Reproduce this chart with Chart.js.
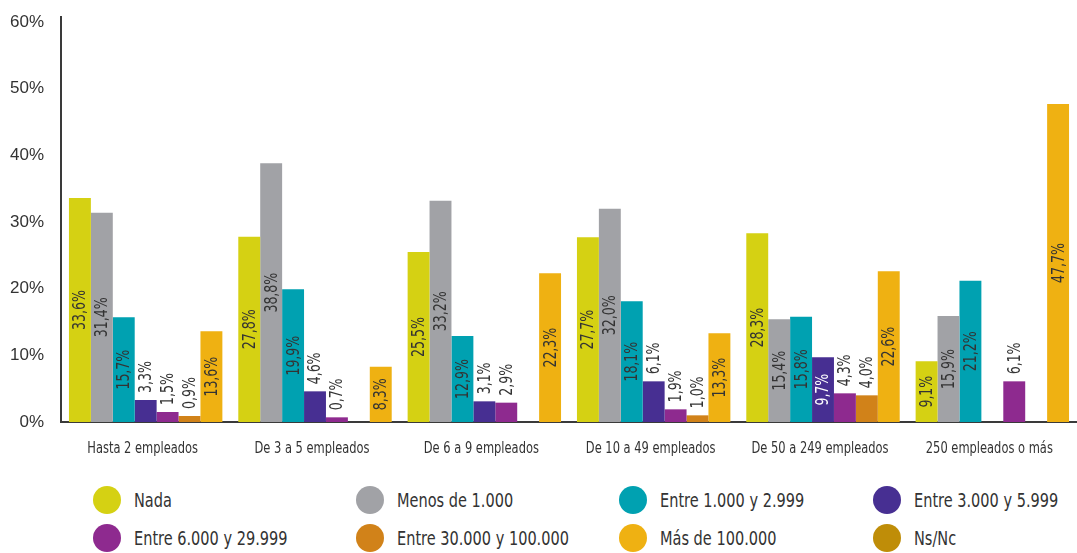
<!DOCTYPE html>
<html>
<head>
<meta charset="utf-8">
<script src="https://cdn.jsdelivr.net/npm/chart.js@4"></script>
<style>
  body { margin: 0; background: #fff; }
  #wrap { width: 1077px; height: 553px; position: relative; overflow: hidden; }
  #legend {
    position: absolute; left: 93px; top: 486px;
    display: grid; grid-template-columns: 263px 263px 254px auto;
    row-gap: 10px;
    font-family: "DejaVu Sans Condensed", sans-serif;
    font-size: 19px; color: #333;
  }
  .item { display: flex; align-items: center; height: 28px; white-space: nowrap; }
  .dot { width: 28px; height: 28px; border-radius: 50%; margin-right: 13px; flex: none; }
  .txt { display: inline-block; transform: scaleX(0.85); transform-origin: left center; }
</style>
</head>
<body>
<div id="wrap">
  <canvas id="chart" width="1077" height="470"></canvas>
  <div id="legend"></div>
</div>
<script>
// categorías (tamaño de empresa)
const categorias = ['Hasta 2 empleados', 'De 3 a 5 empleados', 'De 6 a 9 empleados',
    'De 10 a 49 empleados', 'De 50 a 249 empleados', '250 empleados o más'];

// valores por serie (%), null = sin barra
const nada        = [33.6, 27.8, 25.5, 27.7, 28.3, 9.1];
const menos1000   = [31.4, 38.8, 33.2, 32.0, 15.4, 15.9];
const entre1000   = [15.7, 19.9, 12.9, 18.1, 15.8, 21.2];
const entre3000   = [3.3, 4.6, 3.1, 6.1, 9.7, null];
const entre6000   = [1.5, 0.7, 2.9, 1.9, 4.3, 6.1];
const entre30000  = [0.9, null, null, 1.0, 4.0, null];
const mas100000   = [13.6, 8.3, 22.3, 13.3, 22.6, 47.7];
const nsnc        = [null, null, null, null, null, null];

const ticksY = [0, 10, 20, 30, 40, 50, 60];

const fuente = '"DejaVu Sans Condensed", sans-serif';

// etiquetas giradas dentro o encima de cada barra (fuente estrechada)
const barLabels = {
    id: 'barLabels',
    afterDatasetsDraw(chart) {
        const ctx = chart.ctx;
        const sx = 0.82;
        ctx.save();
        ctx.font = '17px ' + fuente;
        ctx.textBaseline = 'middle';
        chart.data.datasets.forEach((ds, i) => {
            const meta = chart.getDatasetMeta(i);
            if (meta.hidden || ds.hidden) return;
            meta.data.forEach((bar, j) => {
                const v = ds.data[j];
                if (v == null) return;
                const txt = v.toFixed(1).replace('.', ',') + '%';
                const w = ctx.measureText(txt).width * sx;
                const h = bar.base - bar.y;
                ctx.save();
                if (w + 10 < h) {
                    ctx.translate(bar.x, (bar.y + bar.base) / 2);
                    ctx.textAlign = 'center';
                    ctx.fillStyle = ds.insideLabelColor || '#333';
                } else {
                    ctx.translate(bar.x, bar.y - 7);
                    ctx.textAlign = 'left';
                    ctx.fillStyle = '#333';
                }
                ctx.rotate(-Math.PI / 2);
                ctx.scale(sx, 1);
                ctx.fillText(txt, 0, 1);
                ctx.restore();
            });
        });
        ctx.restore();
    }
};

// nombres de categoría bajo el eje x (fuente estrechada)
const xLabels = {
    id: 'xLabels',
    afterDraw(chart) {
        const ctx = chart.ctx;
        const xs = chart.scales.x;
        ctx.save();
        ctx.font = '15px ' + fuente;
        ctx.fillStyle = '#333';
        ctx.textAlign = 'center';
        ctx.textBaseline = 'middle';
        categorias.forEach((c, i) => {
            ctx.save();
            ctx.translate(xs.getPixelForValue(i) - 3, chart.chartArea.bottom + 27);
            ctx.scale(0.85, 1);
            ctx.fillText(c, 0, 0);
            ctx.restore();
        });
        ctx.restore();
    }
};

const chart = new Chart(document.getElementById('chart').getContext('2d'), {
    type: 'bar',
    data: {
        labels: categorias,
        datasets: [
            { label: 'Nada', data: nada, backgroundColor: '#d5d113' },
            { label: 'Menos de 1.000', data: menos1000, backgroundColor: '#a1a2a6' },
            { label: 'Entre 1.000 y 2.999', data: entre1000, backgroundColor: '#00a1b1' },
            { label: 'Entre 3.000 y 5.999', data: entre3000, backgroundColor: '#472f92', insideLabelColor: '#fff' },
            { label: 'Entre 6.000 y 29.999', data: entre6000, backgroundColor: '#8e2a8f' },
            { label: 'Entre 30.000 y 100.000', data: entre30000, backgroundColor: '#d18219' },
            { label: 'Más de 100.000', data: mas100000, backgroundColor: '#efb112' },
            { label: 'Ns/Nc', data: nsnc, backgroundColor: '#bf8d08', hidden: true }
        ]
    },
    options: {
        responsive: false,
        animation: false,
        categoryPercentage: 0.906,
        barPercentage: 1,
        layout: { padding: { top: 17, right: 0, left: 0, bottom: 0 } },
        plugins: {
            legend: { display: false },
            tooltip: { enabled: false }
        },
        scales: {
            x: {
                grid: { display: false, drawTicks: false },
                border: { display: true, color: '#3a3a3a', width: 2 },
                ticks: { display: false },
                afterFit: s => { s.height = 48; s.paddingLeft = 0; s.paddingRight = 0; }
            },
            y: {
                min: 0,
                max: 60.75,
                afterBuildTicks: s => { s.ticks = ticksY.map(v => ({ value: v })); },
                grid: { display: false, drawTicks: false },
                border: { display: true, color: '#3a3a3a', width: 2 },
                ticks: {
                    color: '#333', padding: 17,
                    font: { family: '"Liberation Sans", Arial, sans-serif', size: 17 },
                    callback: v => v + '%'
                },
                afterFit: s => { s.width = 61; s.paddingTop = 0; s.paddingBottom = 0; }
            }
        }
    },
    plugins: [barLabels, xLabels]
});

// leyenda en cuatro columnas
const leyenda = document.getElementById('legend');
chart.data.datasets.forEach(ds => {
    const item = document.createElement('div');
    item.className = 'item';
    item.innerHTML = '<span class="dot" style="background:' + ds.backgroundColor + '"></span><span class="txt">' + ds.label + '</span>';
    leyenda.appendChild(item);
});
</script>
</body>
</html>
